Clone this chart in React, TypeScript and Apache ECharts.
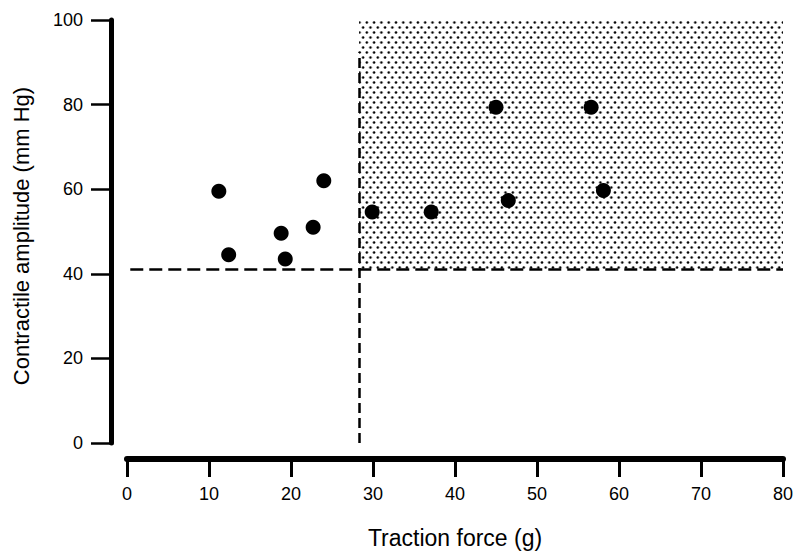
import React, { useEffect, useRef } from "react";
import * as echarts from "echarts";

// Data
const tractionForce = [11.2, 12.4, 18.8, 19.3, 22.7, 24.0, 29.9, 37.1, 45.0, 46.5, 56.6, 58.1];
const amplitude = [59.5, 44.5, 49.6, 43.5, 51.0, 62.0, 54.6, 54.6, 79.4, 57.3, 79.4, 59.7];

// Threshold lines / shaded region (data units)
const thresholdForce = 28.3;
const thresholdAmplitude = 41;
const verticalLineTop = 92.5;
const horizontalLineStart = 0.4;
const regionTop = 100;

const xMin = 0;
const xMax = 80;
const xInterval = 10;
const yMin = 0;
const yMax = 100;
const yInterval = 20;

const xTitle = "Traction force (g)";
const yTitle = "Contractile amplitude (mm Hg)";

const FONT = "'Liberation Sans', Arial, Helvetica, sans-serif";

export default function App() {
  const ref = useRef<HTMLDivElement>(null);

  useEffect(() => {
    if (!ref.current) return;
    const chart = echarts.init(ref.current, null, { renderer: "svg", width: 796, height: 553 });

    const dotSvg =
      "<svg xmlns='http://www.w3.org/2000/svg' width='73' height='100' viewBox='0 0 73 100'>" +
      "<rect width='73' height='100' fill='white'/>" +
      "<circle cx='18' cy='25' r='12.5' fill='black'/>" +
      "<circle cx='54.5' cy='75' r='12.5' fill='black'/>" +
      "</svg>";
    const pattern: any = {
      image: "data:image/svg+xml;charset=utf-8," + encodeURIComponent(dotSvg),
      repeat: "repeat",
      imageWidth: 7.3,
      imageHeight: 10,
    };

    const scatterData = tractionForce.map((x, i) => [x, amplitude[i]]);

    chart.setOption({
      animation: false,
      backgroundColor: "#fff",
      grid: { left: 127, right: 13, top: 20, bottom: 110, outerBoundsMode: "none", containLabel: false },
      xAxis: {
        type: "value",
        min: xMin,
        max: xMax,
        interval: xInterval,
        offset: 16,
        name: xTitle,
        nameLocation: "middle",
        nameGap: 67,
        nameTextStyle: { fontFamily: FONT, fontSize: 23, color: "#000" },
        axisLine: { onZero: false, lineStyle: { width: 6, color: "#000" } },
        axisTick: { length: 18, lineStyle: { width: 3, color: "#000" } },
        axisLabel: { margin: 26, fontFamily: FONT, fontSize: 18, color: "#000" },
        splitLine: { show: false },
      },
      yAxis: {
        type: "value",
        min: yMin,
        max: yMax,
        interval: yInterval,
        offset: 16,
        name: yTitle,
        nameLocation: "middle",
        nameGap: 79,
        nameTextStyle: { fontFamily: FONT, fontSize: 22, color: "#000", padding: [0, 9, 0, 0] },
        axisLine: { onZero: false, lineStyle: { width: 5, color: "#000" } },
        axisTick: { length: 20, lineStyle: { width: 2.5, color: "#000" } },
        axisLabel: { margin: 28, fontFamily: FONT, fontSize: 18, color: "#000" },
        splitLine: { show: false },
      },
      series: [
        {
          type: "line",
          data: [],
          z: 1,
          silent: true,
          markArea: {
            silent: true,
            itemStyle: { color: pattern, borderWidth: 0 },
            data: [
              [
                { coord: [thresholdForce, thresholdAmplitude] },
                { coord: [xMax, regionTop] },
              ],
            ],
          },
        },
        {
          type: "line",
          data: [],
          z: 2,
          silent: true,
          markLine: {
            silent: true,
            symbol: ["none", "none"],
            label: { show: false },
            data: [
              [
                {
                  coord: [horizontalLineStart, thresholdAmplitude],
                  lineStyle: { type: [13, 6], width: 2.5, color: "#000" },
                },
                { coord: [xMax, thresholdAmplitude] },
              ],
              [
                {
                  coord: [thresholdForce, yMin],
                  lineStyle: { type: [10, 5], width: 2.5, color: "#000" },
                },
                { coord: [thresholdForce, verticalLineTop] },
              ],
            ],
          },
        },
        {
          type: "scatter",
          z: 3,
          data: scatterData,
          symbol: "circle",
          symbolSize: 15,
          itemStyle: { color: "#000", opacity: 1 },
        },
      ],
    });

    return () => chart.dispose();
  }, []);

  return (
    <div
      ref={ref}
      style={{ position: "fixed", left: 0, top: 0, width: 796, height: 553, background: "#fff" }}
    />
  );
}
